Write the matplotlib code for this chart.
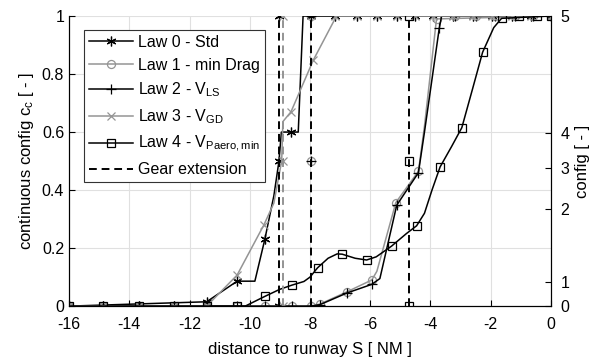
import numpy as np
import matplotlib
matplotlib.use('Agg')
import matplotlib.pyplot as plt
from matplotlib.legend_handler import HandlerTuple

plt.rcParams['font.family'] = ['Liberation Sans', 'DejaVu Sans']
plt.rcParams['mathtext.default'] = 'regular'
plt.rcParams['axes.unicode_minus'] = False

GRAY = '0.58'
ASTERISK = (6, 2, 0)

# x positions where all laws sit at zero at the start
x_start = [-16, -14.87, -13.69, -12.5]
# top samples of law 0 / law 3 and law 1 / law 2 after reaching 1
x_top_03 = [-7.17, -6.45, -5.77, -5.12, -4.51, -3.92, -3.25, -2.6, -1.95, -1.3, -0.65, 0]
x_top_12 = [-3.2, -2.5, -1.85, -1.2, -0.6, 0]

# Law 0 - Std
law0_x = [-16, -11.43, -10.42, -9.83, -9.5, -9.2, -9.03, -8.95, -8.63, -8.39, -8.23, -7.97, 0]
law0_y = [0, 0.015, 0.086, 0.086, 0.23, 0.38, 0.5, 0.6, 0.6, 0.6, 1.0, 1.0, 1.0]
law0_mx = x_start + [-11.43, -10.42, -9.5, -9.03, -9.03, -9.03, -8.63, -7.97] + x_top_03
law0_my = [0] * 4 + [0.015, 0.086, 0.23, 0, 0.5, 1.0, 0.6, 1.0] + [1.0] * len(x_top_03)

# Law 1 - min Drag
law1_x = [-16, -7.97, -7.67, -6.78, -5.95, -5.78, -5.15, -4.4, -4.2, -3.8, 0]
law1_y = [0, 0, 0.007, 0.049, 0.09, 0.12, 0.357, 0.465, 0.62, 0.99, 1.0]
law1_mx = x_start + [-11.43, -10.42, -9.5, -8.6, -7.97, -7.97, -7.97, -7.67, -6.78, -5.95,
                     -5.15, -4.4, -3.8] + x_top_12
law1_my = [0] * 4 + [0, 0, 0, 0, 0, 0.5, 1.0, 0.007, 0.049, 0.09,
                     0.357, 0.465, 0.99] + [1.0] * len(x_top_12)

# Law 2 - V_LS
law2_x = [-16, -7.97, -7.67, -6.78, -5.95, -5.68, -5.12, -4.4, -4.2, -3.71, -3.63, 0]
law2_y = [0, 0, 0.005, 0.045, 0.075, 0.095, 0.348, 0.46, 0.6, 0.957, 1.0, 1.0]
law2_mx = x_start + [-11.43, -10.42, -9.5, -8.6, -7.97, -7.97, -7.97, -7.67, -6.78, -5.95,
                     -5.12, -4.4, -3.71] + x_top_12
law2_my = [0] * 4 + [0, 0, 0, 0, 0, 0.5, 1.0, 0.005, 0.045, 0.075,
                     0.348, 0.46, 0.957] + [1.0] * len(x_top_12)

# Law 3 - V_GD
law3_x = [-16, -11.43, -10.42, -9.53, -9.2, -8.94, -8.9, -8.63, -7.89, -7.12, 0]
law3_y = [0, 0.0, 0.107, 0.28, 0.355, 0.5, 0.636, 0.67, 0.848, 1.0, 1.0]
law3_mx = x_start + [-11.43, -10.42, -9.53, -8.9, -8.9, -8.9, -8.63, -7.89] + x_top_03
law3_my = [0] * 4 + [0, 0.107, 0.28, 0, 0.5, 1.0, 0.67, 0.848] + [1.0] * len(x_top_03)

# Law 4 - V_Paero,min
law4_x = [-16, -10.42, -10.15, -9.49, -9.0, -8.61, -8.2, -8.0, -7.75, -7.4, -7.1, -6.93,
          -6.5, -6.12, -5.8, -5.29, -4.8, -4.46, -4.2, -3.95, -3.68, -3.3, -2.96, -2.6,
          -2.27, -1.9, -1.64, 0]
law4_y = [0, 0, 0.0, 0.034, 0.058, 0.072, 0.085, 0.1, 0.132, 0.165, 0.18, 0.179,
          0.165, 0.159, 0.17, 0.207, 0.25, 0.277, 0.32, 0.4, 0.48, 0.55, 0.615, 0.75,
          0.875, 0.96, 0.992, 1.0]
law4_mx = x_start + [-11.43, -10.42, -9.49, -8.61, -7.75, -6.93, -6.12, -5.29, -4.7, -4.7,
                     -4.7, -4.46, -3.68, -2.96, -2.27, -1.64, -1.05, -0.45, 0]
law4_my = [0] * 4 + [0, 0, 0.034, 0.072, 0.132, 0.179, 0.159, 0.207, 0, 0.5,
                     1.0, 0.277, 0.48, 0.615, 0.875, 0.992, 1.0, 1.0, 1.0]

# gear extension positions and colours
gear_x = [-9.03, -8.9, -7.97, -4.7]
gear_c = ['k', GRAY, 'k', 'k']

# right axis: config levels and where they sit on the c_c scale
config_pos = [0, 0.083, 0.334, 0.476, 0.597, 1.0]
config_lab = ['0', '1', '2', '3', '4', '5']

fig = plt.figure(figsize=(5.95, 3.64), dpi=100)
ax = fig.add_axes([0.116, 0.159, 0.81, 0.797])

laws = [
    (law0_x, law0_y, law0_mx, law0_my, 'k', ASTERISK, 'Law 0 - Std'),
    (law1_x, law1_y, law1_mx, law1_my, GRAY, 'o', 'Law 1 - min Drag'),
    (law2_x, law2_y, law2_mx, law2_my, 'k', '+', 'Law 2 - V$_{LS}$'),
    (law3_x, law3_y, law3_mx, law3_my, GRAY, 'x', 'Law 3 - V$_{GD}$'),
    (law4_x, law4_y, law4_mx, law4_my, 'k', 's', 'Law 4 - V$_{Paero,min}$'),
]

handles = []
labels = []
for lx, ly, mx, my, c, m, lab in laws:
    ln, = ax.plot(lx, ly, color=c, lw=1.1)
    ms = 7 if m in (ASTERISK, '+') else 5.8
    ax.plot(mx, my, ls='none', marker=m, color=c, mfc='none', ms=ms, mew=0.9)
    mk, = ax.plot([], [], ls='none', marker=m, color=c, mfc='none', ms=ms, mew=0.9)
    handles.append((ln, mk))
    labels.append(lab)

for gx, gc in zip(gear_x, gear_c):
    ax.plot([gx, gx], [0, 1], color=gc, ls='--', lw=1.4, dashes=(4, 2.5))
handles.append(ax.plot([], [], color='k', ls='--', lw=1.4, dashes=(4, 2.5))[0])
labels.append('Gear extension')

ax.set_xlim(-16, 0)
ax.set_ylim(0, 1)
ax.set_xticks(np.arange(-16, 1, 2))
ax.set_xticklabels([str(v) for v in range(-16, 1, 2)])
ax.set_yticks([0, 0.2, 0.4, 0.6, 0.8, 1])
ax.set_yticklabels(['0', '0.2', '0.4', '0.6', '0.8', '1'])
ax.grid(True, color='0.88', lw=0.8)
ax.set_axisbelow(True)
ax.tick_params(direction='in', length=4, labelsize=11.5, width=0.8)
ax.tick_params(axis='x', pad=8)
ax.spines['top'].set_visible(False)
ax.set_xlabel('distance to runway S [ NM ]', fontsize=12, labelpad=7)
ax.set_ylabel('continuous config c$_c$ [ - ]', fontsize=12)

ax2 = ax.twinx()
ax2.set_ylim(0, 1)
ax2.set_yticks(config_pos)
ax2.set_yticklabels(config_lab)
ax2.tick_params(direction='in', length=4, labelsize=11.5, width=0.8, pad=7)
ax2.spines['top'].set_visible(False)
ax2.set_ylabel('config [ - ]', fontsize=12, labelpad=4)

leg = ax.legend(handles, labels, handler_map={tuple: HandlerTuple(ndivide=1, pad=0)},
                loc='upper left', bbox_to_anchor=(0.031, 0.952), borderaxespad=0,
                fontsize=11.5, handlelength=2.8, labelspacing=0.5, handletextpad=0.3,
                borderpad=0.3, fancybox=False, framealpha=1, edgecolor='0.2')
leg.get_frame().set_linewidth(0.8)

fig.savefig('out.png', dpi=100)
